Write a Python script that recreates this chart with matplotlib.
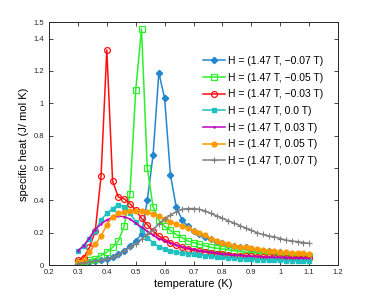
import matplotlib
matplotlib.use("Agg")
import matplotlib.pyplot as plt

plt.rcParams['font.family'] = ['Liberation Sans', 'DejaVu Sans']

# temperature grid (K)
temp = [0.30, 0.32, 0.34, 0.36, 0.38, 0.40, 0.42, 0.44, 0.46, 0.48,
        0.50, 0.52, 0.54, 0.56, 0.58, 0.60, 0.62, 0.64, 0.66, 0.68,
        0.70, 0.72, 0.74, 0.76, 0.78, 0.80, 0.82, 0.84, 0.86, 0.88,
        0.90, 0.92, 0.94, 0.96, 0.98, 1.00, 1.02, 1.04, 1.06, 1.08, 1.10]

# specific heat for each field
c_m007 = [0.01, 0.01, 0.02, 0.025, 0.03, 0.04, 0.05, 0.07, 0.09, 0.12,
          0.15, 0.19, 0.40, 0.68, 1.19, 1.03, 0.56, 0.36, 0.28, 0.24,
          0.21, 0.19, 0.175, 0.16, 0.145, 0.135, 0.125, 0.12, 0.115, 0.11,
          0.10, 0.095, 0.09, 0.085, 0.08, 0.08, 0.075, 0.07, 0.07, 0.065, 0.065]
c_m005 = [0.02, 0.025, 0.03, 0.04, 0.06, 0.08, 0.11, 0.15, 0.24, 0.44,
          1.08, 1.46, 0.60, 0.36, 0.28, 0.24, 0.215, 0.19, 0.17, 0.15,
          0.14, 0.13, 0.12, 0.11, 0.105, 0.10, 0.095, 0.09, 0.085, 0.08,
          0.078, 0.075, 0.072, 0.07, 0.067, 0.065, 0.063, 0.06, 0.058, 0.056, 0.055]
c_m003 = [0.03, 0.047, 0.11, 0.21, 0.55, 1.33, 0.52, 0.42, 0.41, 0.38,
          0.34, 0.29, 0.25, 0.21, 0.18, 0.16, 0.14, 0.125, 0.11, 0.10,
          0.09, 0.085, 0.08, 0.075, 0.07, 0.067, 0.063, 0.06, 0.058, 0.056,
          0.054, 0.052, 0.05, 0.049, 0.048, 0.047, 0.046, 0.045, 0.044, 0.043, 0.042]
c_000 = [0.09, 0.12, 0.16, 0.21, 0.28, 0.32, 0.35, 0.375, 0.36, 0.32,
         0.27, 0.22, 0.17, 0.14, 0.115, 0.10, 0.09, 0.08, 0.075, 0.072,
         0.07, 0.065, 0.06, 0.055, 0.05, 0.048, 0.045, 0.043, 0.04, 0.038,
         0.036, 0.035, 0.033, 0.032, 0.031, 0.03, 0.029, 0.028, 0.027, 0.026, 0.025]
c_p003 = [0.09, 0.12, 0.17, 0.22, 0.255, 0.28, 0.295, 0.303, 0.30, 0.285,
          0.26, 0.235, 0.21, 0.185, 0.165, 0.15, 0.135, 0.125, 0.115, 0.105,
          0.098, 0.09, 0.085, 0.08, 0.075, 0.07, 0.067, 0.064, 0.061, 0.058,
          0.056, 0.054, 0.052, 0.05, 0.049, 0.048, 0.047, 0.046, 0.045, 0.044, 0.043]
c_p005 = [0.02, 0.03, 0.08, 0.13, 0.18, 0.25, 0.30, 0.32, 0.33, 0.335,
          0.338, 0.335, 0.328, 0.315, 0.303, 0.285, 0.27, 0.255, 0.24, 0.23,
          0.21, 0.20, 0.185, 0.165, 0.15, 0.14, 0.13, 0.12, 0.115, 0.11,
          0.105, 0.10, 0.095, 0.09, 0.087, 0.084, 0.08, 0.078, 0.075, 0.073, 0.07]
c_p007 = [0.01, 0.015, 0.02, 0.025, 0.03, 0.04, 0.05, 0.065, 0.085, 0.11,
          0.13, 0.16, 0.19, 0.22, 0.255, 0.285, 0.31, 0.33, 0.345, 0.35,
          0.35, 0.345, 0.335, 0.32, 0.305, 0.29, 0.275, 0.26, 0.245, 0.23,
          0.215, 0.20, 0.19, 0.18, 0.175, 0.165, 0.155, 0.15, 0.145, 0.14, 0.135]

labels = ["H = (1.47 T, \u22120.07 T)", "H = (1.47 T, \u22120.05 T)",
          "H = (1.47 T, \u22120.03 T)", "H = (1.47 T, 0.0 T)",
          "H = (1.47 T, 0.03 T)", "H = (1.47 T, 0.05 T)", "H = (1.47 T, 0.07 T)"]

fig = plt.figure(figsize=(3.74, 2.99), dpi=100)
ax = fig.add_axes([0.131, 0.113, 0.773, 0.812])

lw = 1.1
ax.plot(temp, c_m007, color='#2387d0', marker='D', ms=3.2, lw=lw, mfc='#2387d0', mec='#2387d0', label=labels[0])
ax.plot(temp, c_m005, color='#2cf02c', marker='s', ms=3.8, lw=lw, mfc='none', mec='#2cf02c', mew=0.9, label=labels[1])
ax.plot(temp, c_m003, color='#ff1010', marker='o', ms=4.2, lw=lw, mfc='none', mec='#ff1010', mew=0.9, label=labels[2])
ax.plot(temp, c_000, color='#1fc0c0', marker='s', ms=2.2, lw=lw, label=labels[3])
ax.plot(temp, c_p003, color='#c000c0', marker='.', ms=1.5, lw=lw, label=labels[4])
ax.plot(temp, c_p005, color='#ff9900', marker='o', ms=3.4, lw=lw, label=labels[5])
ax.plot(temp, c_p007, color='#7f7f7f', marker='+', ms=4, mew=0.8, lw=lw, label=labels[6])

ax.set_xlim(0.2, 1.2)
ax.set_ylim(0, 1.5)
xt = [0.2, 0.3, 0.4, 0.5, 0.6, 0.7, 0.8, 0.9, 1.0, 1.1, 1.2]
yt = [0, 0.2, 0.4, 0.6, 0.8, 1.0, 1.2, 1.4, 1.5]
ax.set_xticks(xt)
ax.set_xticklabels(["0.2", "0.3", "0.4", "0.5", "0.6", "0.7", "0.8", "0.9", "1", "1.1", "1.2"])
ax.set_yticks(yt)
ax.set_yticklabels(["0", "0.2", "0.4", "0.6", "0.8", "1", "1.2", "1.4", "1.5"])
ax.tick_params(direction='in', top=True, right=True, labelsize=5.5, length=3,
               width=0.6, colors='#262626')
ax.tick_params(axis='x', pad=2.5)
ax.tick_params(axis='y', pad=3.5)
for s in ax.spines.values():
    s.set_linewidth(0.7)
    s.set_color('#262626')

ax.set_xlabel("temperature (K)", fontsize=8, labelpad=2.5)
ax.set_ylabel("specific heat (J/ mol K)", fontsize=8, labelpad=3)

ax.legend(loc='upper right', bbox_to_anchor=(0.955, 0.87), frameon=False, fontsize=7.5,
          handlelength=2.1, handletextpad=0.3, labelspacing=0.64, borderaxespad=0.0,
          borderpad=0.2)

fig.savefig("out.png", dpi=100)
